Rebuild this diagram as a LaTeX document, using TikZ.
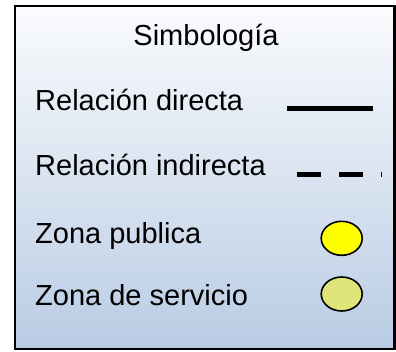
\documentclass[tikz,border=0pt]{standalone}
\usepackage{fontspec}
\setmainfont{Liberation Sans}
\definecolor{bgtop}{RGB}{250,251,253}
\definecolor{bgbot}{RGB}{185,204,228}
\definecolor{zpub}{RGB}{255,255,0}
\definecolor{zserv}{RGB}{222,228,120}
\begin{document}
\begin{tikzpicture}[x=1pt,y=-1pt,
  lbl/.style={anchor=base west,inner sep=0pt,font=\fontsize{29}{30}\selectfont},
  zone/.style={ellipse,draw=black,line width=1.6pt,minimum width=41pt,minimum height=34pt,inner sep=0pt}]
\usetikzlibrary{shapes.geometric}
\useasboundingbox (0,0) rectangle (396,351);
\shade[top color=bgtop,bottom color=bgbot] (14.8,6.2) rectangle (394.5,348.8);
\draw[line width=2.5pt] (14.8,6.2) rectangle (394.5,348.8);
\node[anchor=base,inner sep=0pt,font=\fontsize{29}{30}\selectfont] (title) at (206,45) {Simbología};
\node[lbl] (rd) at (35,110) {Relación directa};
\node[lbl] (ri) at (35,175) {Relación indirecta};
\node[lbl] (zp) at (35,243) {Zona publica};
\node[lbl] (zs) at (35,305) {Zona de servicio};
\coordinate (s1) at (287,108);
\coordinate (s2) at (373,108);
\draw[line width=5pt] (s1) -- (s2);
\coordinate (d1) at (297,174.5);
\coordinate (d2) at (382,174.5);
\draw[line width=5pt,dash pattern=on 24pt off 18pt] (d1) -- (d2);
\node[zone,fill=zpub] (cp) at (341.7,238.3) {};
\node[zone,fill=zserv] (cs) at (341.7,294) {};
\end{tikzpicture}
\end{document}
